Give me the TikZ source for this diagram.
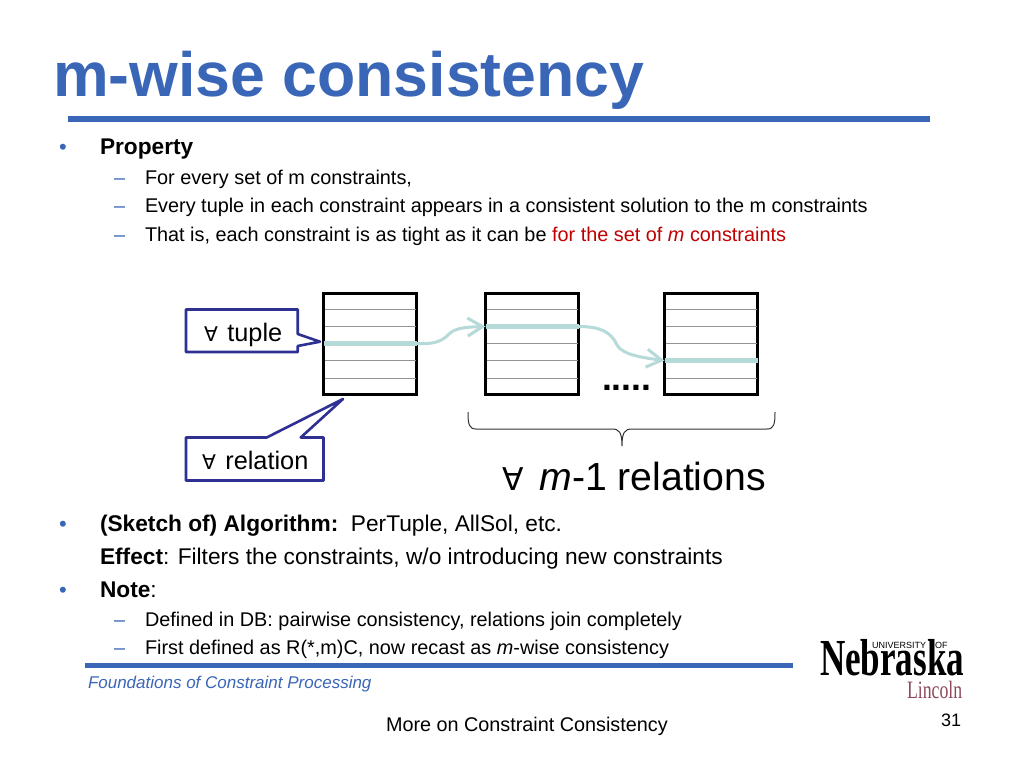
\documentclass[tikz,border=0pt]{standalone}
\usepackage{fontspec}
\setmainfont{Liberation Sans}
\newfontfamily\symfont{DejaVu Sans}
\newfontfamily\serifont{Liberation Serif}
\usetikzlibrary{arrows.meta,calc}
\definecolor{titleblue}{HTML}{3A66B8}
\definecolor{bulletblue}{HTML}{3A66B8}
\definecolor{teal}{HTML}{B5DAD8}
\definecolor{callout}{HTML}{2E3192}
\definecolor{redtxt}{HTML}{C00000}
\definecolor{lincoln}{HTML}{8E4A5A}
\newcommand{\fs}[1]{\fontsize{#1}{#1}\selectfont}
\newcommand{\fa}{\scalebox{.8}{\symfont\char"2200}}
\tikzset{
 x=1pt,y=-1pt,
 txt/.style={anchor=base west,inner sep=0pt,outer sep=0pt},
 lvla/.style={txt,font=\fs{22.7}},
 lvlb/.style={txt,font=\fs{19.85}},
 bul/.style={txt,font=\fs{22},text=bulletblue},
 dsh/.style={txt,font=\fs{19.85},text=bulletblue},
 tbl/.style={draw=black,line width=3pt,minimum width=93pt,minimum height=101.5pt,inner sep=0pt,outer sep=0pt,anchor=north west},
 rowl/.style={draw=gray!85,line width=1pt},
 callbox/.style={draw=callout,line width=2.6pt,fill=white,line join=round},
 tup/.style={draw=teal,line width=5pt},
 tupc/.style={draw=teal,line width=3pt,-{Straight Barb[length=15pt,width=18pt,line width=3pt]}},
}
\begin{document}
\begin{tikzpicture}
\useasboundingbox (0,0) rectangle (1024,768);
\fill[white] (0,0) rectangle (1024,768);
% title
\node[txt,font=\bfseries\fs{62.6},text=titleblue] (title) at (53,96) {m-wise consistency};
\coordinate (ra) at (68,118.5); \coordinate (rb) at (930,118.5);
\draw[titleblue,line width=6pt] (ra) -- (rb);
% text top
\node[bul] (b1) at (59,154) {•};
\node[lvla] (p) at (100,154.5) {\bfseries Property};
\node[dsh] (d1) at (114,184) {–};
\node[lvlb] (l1) at (145,184) {For every set of m constraints,};
\node[dsh] (d2) at (114,212) {–};
\node[lvlb] (l2) at (145,212) {Every tuple in each constraint appears in a consistent solution to the m constraints};
\node[dsh] (d3) at (114,241) {–};
\node[lvlb] (l3) at (145,241) {That is, each constraint is as tight as it can be \textcolor{redtxt}{for the set of \textit{m} constraints}};
% tables
\foreach \n/\x in {A/323.5,B/485.5,C/664.5}{
 \node[tbl] (\n) at (\x,293) {};
 \foreach \y in {16.5,33.5,50.5,67.5,85}{
  \draw[rowl] ($(\n.north west)+(1,\y)$) -- ($(\n.north east)+(-1,\y)$);
 }
}
% tuples
\coordinate (Aa) at ($(A.north west)+(0,50.5)$);
\coordinate (Ab) at ($(A.north east)+(0,50.5)$);
\coordinate (Ba) at ($(B.north west)+(0,33.5)$);
\coordinate (Bb) at ($(B.north east)+(0,33.5)$);
\coordinate (Ca) at ($(C.north west)+(0,67.5)$);
\coordinate (Cb) at ($(C.north east)+(0,67.5)$);
\draw[tup] (Aa) -- (Ab);
\draw[tup] (Ba) -- (Bb);
\draw[tup] (Ca) -- (Cb);
\draw[tupc] (Ab) .. controls +(15,1) and (442,342) .. (449,334) .. controls (456,327) and (470,327) .. (Ba);
\draw[tupc] (Bb) .. controls +(22,0) and (611,332) .. (617,345) .. controls (622,355) and (645,358) .. (Ca);
% callouts
\coordinate (tupleTip) at (320,341.7);
\coordinate (relTip) at (343,399);
\draw[callbox] (186,309.5) -- (297.7,309.5) -- (297.7,334) -- (tupleTip) -- (297.7,346) -- (297.7,352) -- (186,352) -- cycle;
\node[txt,font=\fs{25.3}] (tuple) at (204,341) {\fa\hspace{2.5pt}\ tuple};
\draw[callbox] (186,437.5) -- (266.7,437.5) -- (relTip) -- (300.7,437.5) -- (323.5,437.5) -- (323.5,480.5) -- (186,480.5) -- cycle;
\node[txt,font=\fs{25.3}] (relation) at (202,469) {\fa\hspace{2.5pt}\ relation};
% dots
\node[txt,font=\bfseries\fs{35.5}] (dots) at (602,390) {.....};
% brace
\coordinate (bl) at (468,412); \coordinate (br) at (775,412); \coordinate (bm) at (622,446);
\draw[black!80,line width=1pt] (bl) .. controls (468,424) and (469,429) .. (476,429) -- (612,429) .. controls (619,429) and (622,432) .. (bm) .. controls (622,432) and (625,429) .. (632,429) -- (767,429) .. controls (774,429) and (775,424) .. (br);
\node[txt,font=\fs{39.2}] (mrel) at (502,490) {\fa\hspace{5pt}\ \textit{m}-1 relations};
% lower text
\node[bul] (b2) at (59,531) {•};
\node[lvla] (s) at (100,531) {\bfseries (Sketch of) Algorithm:\ \ \mdseries PerTuple, AllSol, etc.};
\node[lvla] (e) at (100,564) {\textbf{Effect}: Filters the constraints, w/o introducing new constraints};
\node[bul] (b3) at (59,597) {•};
\node[lvla] (n) at (100,597) {\textbf{Note}:};
\node[dsh] (d4) at (114,626) {–};
\node[lvlb] (l4) at (145,626) {Defined in DB: pairwise consistency, relations join completely};
\node[dsh] (d5) at (114,654) {–};
\node[lvlb] (l5) at (145,654) {First defined as R(*,m)C, now recast as \textit{m}-wise consistency};
% footer
\coordinate (fa) at (85,665.5); \coordinate (fb) at (793,665.5);
\draw[titleblue,line width=5pt] (fa) -- (fb);
\node[txt,font=\itshape\fs{17},text=titleblue] (found) at (88,688) {Foundations of Constraint Processing};
\node[txt,font=\fs{19.8}] (more) at (386,731) {More on Constraint Consistency};
\node[txt,font=\fs{18}] (num) at (941,726) {31};
% logo
\node[txt,font=\serifont\bfseries\fs{52}] (neb) at (820,675) {\scalebox{.674}[1]{Nebraska}};
\node[txt,font=\fs{9}] (univ) at (872,648) {UNIVERSITY};
\node[txt,font=\fs{9}] (of) at (935,648) {OF};
\node[txt,font=\serifont\fs{25},text=lincoln] (lin) at (907,698) {\scalebox{.71}[1]{Lincoln}};
\end{tikzpicture}
\end{document}
